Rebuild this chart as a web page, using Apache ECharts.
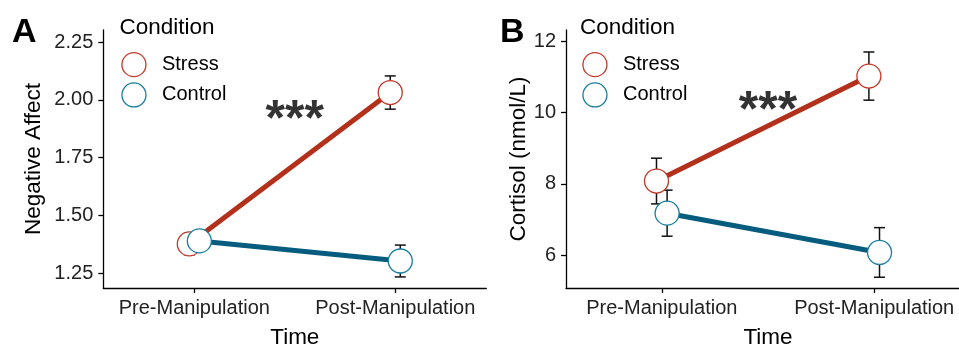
<!DOCTYPE html>
<html>
<head>
<meta charset="utf-8">
<script src="https://cdn.jsdelivr.net/npm/echarts@6/dist/echarts.min.js"></script>
<style>
html,body{margin:0;padding:0;background:#fff;}
#chart{width:959px;height:345px;}
</style>
</head>
<body>
<div id="chart"></div>
<script>
// ---- data ----
const timeLabels = ['Pre-Manipulation', 'Post-Manipulation'];
const conditions = ['Stress', 'Control'];

const affectStress = [1.376, 2.032];
const affectStressSe = [0.047, 0.072];
const affectControl = [1.389, 1.302];
const affectControlSe = [0.040, 0.069];

const cortisolStress = [8.08, 11.02];
const cortisolStressSe = [0.64, 0.675];
const cortisolControl = [7.18, 6.08];
const cortisolControlSe = [0.645, 0.695];

const affectTicks = [1.25, 1.50, 1.75, 2.00, 2.25];
const cortisolTicks = [6, 8, 10, 12];

const sigLabel = '***';
const sigA = [1.5, 1.906];
const sigB = [1.5, 10.0];

// ---- styles ----
const FONT = 'Liberation Sans, Arial, sans-serif';
const lineCol = { Stress: '#B3301B', Control: '#065C7E' };
const ringCol = { Stress: '#C23A2A', Control: '#1A7E9E' };
const dodge = { Stress: -0.025, Control: 0.025 };

function pts(vals, cond) { return vals.map((v, i) => [i + 1 + dodge[cond], v]); }
function bars(vals, se, cond) { return vals.map((v, i) => [i + 1 + dodge[cond], v - se[i], v + se[i]]); }

function errRender(params, api) {
  const x = api.value(0);
  const lo = api.coord([x, api.value(1)]);
  const hi = api.coord([x, api.value(2)]);
  const hw = 5.5;
  const st = { stroke: '#111', lineWidth: 1.5 };
  return {
    type: 'group',
    children: [
      { type: 'line', shape: { x1: lo[0], y1: lo[1], x2: hi[0], y2: hi[1] }, style: st },
      { type: 'line', shape: { x1: hi[0] - hw, y1: hi[1], x2: hi[0] + hw, y2: hi[1] }, style: st },
      { type: 'line', shape: { x1: lo[0] - hw, y1: lo[1], x2: lo[0] + hw, y2: lo[1] }, style: st }
    ]
  };
}

function xAxisDef(gi, min, max) {
  return {
    type: 'value', gridIndex: gi, min: min, max: max,
    name: 'Time', nameLocation: 'middle', nameGap: 38,
    nameTextStyle: { fontFamily: FONT, fontSize: 22.5, color: '#000' },
    axisLine: { show: true, onZero: false, lineStyle: { color: '#000', width: 1.3 } },
    axisTick: { show: true, length: 5, customValues: [1, 2], lineStyle: { color: '#000', width: 1.3 } },
    axisLabel: { customValues: [1, 2], margin: 10, fontFamily: FONT, fontSize: 20, color: '#222',
      formatter: v => timeLabels[Math.round(v) - 1] },
    splitLine: { show: false }
  };
}
function yAxisDef(gi, min, max, ticks, name, gap, dec) {
  return {
    type: 'value', gridIndex: gi, min: min, max: max,
    name: name, nameLocation: 'middle', nameGap: gap, nameRotate: 90,
    nameTextStyle: { fontFamily: FONT, fontSize: 22.5, color: '#000' },
    axisLine: { show: true, onZero: false, lineStyle: { color: '#000', width: 1.3 } },
    axisTick: { show: true, length: 5, customValues: ticks, lineStyle: { color: '#000', width: 1.3 } },
    axisLabel: { customValues: ticks, margin: 10, fontFamily: FONT, fontSize: 20, color: '#222',
      formatter: v => v.toFixed(dec) },
    splitLine: { show: false }
  };
}

function panelSeries(gi, stress, stressSe, control, controlSe, sig) {
  const out = [];
  const sets = { Stress: [stress, stressSe], Control: [control, controlSe] };
  conditions.forEach(c => {
    out.push({ type: 'line', name: c, xAxisIndex: gi, yAxisIndex: gi, data: pts(sets[c][0], c),
      showSymbol: false, symbol: 'none', silent: true, z: 2,
      lineStyle: { color: lineCol[c], width: 5, cap: 'butt' }, itemStyle: { color: lineCol[c] } });
  });
  conditions.forEach(c => {
    out.push({ type: 'custom', xAxisIndex: gi, yAxisIndex: gi, data: bars(sets[c][0], sets[c][1], c),
      renderItem: errRender, z: 3, silent: true });
  });
  conditions.forEach(c => {
    out.push({ type: 'scatter', name: c, xAxisIndex: gi, yAxisIndex: gi, data: pts(sets[c][0], c),
      symbol: 'circle', symbolSize: 24, z: 4 + (c === 'Control' ? 1 : 0), silent: true,
      itemStyle: { color: '#fff', borderColor: ringCol[c], borderWidth: 1.3, opacity: 1 } });
  });
  out.push({ type: 'scatter', xAxisIndex: gi, yAxisIndex: gi, data: [sig], symbolSize: 0, silent: true, z: 6,
    label: { show: true, position: 'inside', formatter: sigLabel, fontFamily: FONT, fontSize: 50,
      color: '#000', fontWeight: 'bold' } });
  return out;
}

function legendDef(left) {
  return {
    orient: 'vertical', left: left, top: 52, padding: 0, itemWidth: 24, itemHeight: 24, itemGap: 5,
    selectedMode: false,
    textStyle: { fontFamily: FONT, fontSize: 20, color: '#000', padding: [0, 0, 0, 11] },
    data: conditions.map(c => ({ name: c, icon: 'circle',
      itemStyle: { color: '#fff', borderColor: ringCol[c], borderWidth: 1.3 } }))
  };
}

const chart = echarts.init(document.getElementById('chart'), null, { renderer: 'canvas' });
chart.setOption({
  animation: false,
  backgroundColor: '#fff',
  grid: [
    { left: 103.3, top: 30, width: 383, height: 258, containLabel: false, outerBoundsMode: 'none' },
    { left: 566, top: 30, width: 404, height: 258, containLabel: false, outerBoundsMode: 'none' }
  ],
  xAxis: [xAxisDef(0, 0.547, 2.453), xAxisDef(1, 0.549, 2.451)],
  yAxis: [
    yAxisDef(0, 1.185, 2.303, affectTicks, 'Negative Affect', 58, 2),
    yAxisDef(1, 5.084, 12.311, cortisolTicks, 'Cortisol (nmol/L)', 30, 0)
  ],
  legend: [legendDef(121.3), legendDef(582.3)],
  graphic: [
    { type: 'text', x: 12, y: 32.5, style: { text: 'A', font: 'bold 34px ' + FONT, fill: '#000', verticalAlign: 'middle', align: 'left' } },
    { type: 'text', x: 500, y: 32.5, style: { text: 'B', font: 'bold 34px ' + FONT, fill: '#000', verticalAlign: 'middle', align: 'left' } },
    { type: 'text', x: 119.5, y: 27.5, style: { text: 'Condition', font: '22.5px ' + FONT, fill: '#000', verticalAlign: 'middle', align: 'left' } },
    { type: 'text', x: 580, y: 27.5, style: { text: 'Condition', font: '22.5px ' + FONT, fill: '#000', verticalAlign: 'middle', align: 'left' } }
  ],
  series: [].concat(
    panelSeries(0, affectStress, affectStressSe, affectControl, affectControlSe, sigA),
    panelSeries(1, cortisolStress, cortisolStressSe, cortisolControl, cortisolControlSe, sigB)
  )
});
</script>
</body>
</html>
